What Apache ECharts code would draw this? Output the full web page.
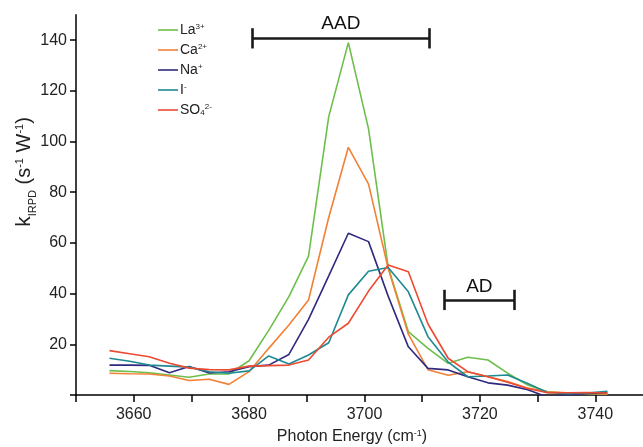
<!DOCTYPE html>
<html><head><meta charset="utf-8">
<script src="https://cdn.jsdelivr.net/npm/echarts@6/dist/echarts.min.js"></script>
<style>html,body{margin:0;padding:0;background:#fff}#c{width:643px;height:447px}</style>
</head><body><div id="c"></div>
<script>
// Photon energy (cm^-1)
const photonEnergy = [3655.8, 3659.3, 3662.7, 3666.2, 3669.6, 3673.1, 3676.5, 3680.0, 3683.4, 3686.9, 3690.3, 3693.8, 3697.2, 3700.7, 3704.1, 3707.6, 3711.0, 3714.5, 3717.9, 3721.4, 3724.8, 3728.3, 3731.7, 3735.2, 3738.6, 3742.1];
// k_IRPD values
const la3 = [9.6, 9.3, 8.8, 7.9, 7.0, 8.3, 8.3, 13.5, 25.5, 38.8, 54.8, 109.8, 139.0, 105.0, 50.5, 25.0, 18.4, 12.5, 14.9, 13.8, 8.6, 3.9, 1.3, 0.7, 0.5, 0.3];
const ca2 = [8.6, 8.4, 8.3, 7.5, 5.7, 6.2, 4.2, 9.2, 18.4, 27.6, 37.5, 70.0, 97.7, 83.2, 50.0, 24.0, 10.0, 7.8, 9.2, 7.2, 5.3, 2.7, 1.3, 0.9, 0.6, 0.4];
const na1 = [11.8, 11.8, 11.7, 8.8, 11.2, 8.7, 9.2, 11.2, 11.8, 16.0, 29.8, 47.0, 63.8, 60.5, 39.0, 19.0, 10.5, 9.9, 7.2, 4.8, 3.9, 2.1, -0.8, 0.0, 0.6, 1.0];
const iodide = [14.5, 13.3, 11.8, 11.4, 11.0, 9.2, 8.6, 9.5, 15.4, 12.2, 15.8, 20.6, 39.5, 48.8, 50.3, 40.7, 23.0, 13.0, 7.2, 7.5, 7.9, 4.5, 1.0, 0.5, 0.8, 1.5];
const sulfate = [17.5, 16.3, 15.1, 12.5, 10.6, 10.0, 9.9, 11.4, 11.6, 11.8, 13.8, 22.8, 28.3, 41.0, 51.3, 48.6, 28.0, 14.5, 9.2, 7.2, 5.0, 2.6, 0.9, 0.9, 1.0, 0.8];

const seriesNames = ['La3+', 'Ca2+', 'Na+', 'I-', 'SO42-'];
const legendRich = {'La3+':'{b|La}{sup|3+}','Ca2+':'{b|Ca}{sup|2+}','Na+':'{b|Na}{sup|+}','I-':'{b|I}{sup|-}','SO42-':'{b|SO}{sub|4}{sup|2-}'};
const colors = ['#6dbf4b', '#f28035', '#2f2a7f', '#1d8a91', '#ec4a32'];

const xTicks = [3650, 3660, 3670, 3680, 3690, 3700, 3710, 3720, 3730, 3740];
const xLabels = [3660, 3680, 3700, 3720, 3740];
const yTicks = [0, 20, 40, 60, 80, 100, 120, 140];
const yLabels = [20, 40, 60, 80, 100, 120, 140];

// annotation brackets (data units)
const aadRange = [3680.6, 3711.2], aadLevel = 140.7;
const adRange = [3713.8, 3726.0], adLevel = 37.5;
const capHalf = 4;

const FONT = 'Liberation Sans, Arial, sans-serif';
const chart = echarts.init(document.getElementById('c'), null, {renderer: 'canvas'});

const allData = [la3, ca2, na1, iodide, sulfate];
const series = allData.map((arr, i) => ({
  name: seriesNames[i], type: 'line', symbol: 'none', showSymbol: false,
  data: photonEnergy.map((x, j) => [x, arr[j]]),
  lineStyle: {width: 1.6, color: colors[i]}, itemStyle: {color: colors[i]},
  animation: false, z: 2
}));

const labelStyle = {show: true, position: 'insideMiddleTop', fontSize: 19, color: '#111', fontFamily: FONT};
series.push({
  name: 'annot', type: 'line', data: [], silent: true, animation: false,
  markLine: {
    symbol: ['none', 'none'], silent: true, animation: false,
    lineStyle: {color: '#1a1a1a', width: 2.6, type: 'solid'},
    label: {show: false},
    data: [
      [{coord: [aadRange[0], aadLevel], label: Object.assign({formatter: 'AAD', distance: 5}, labelStyle)}, {coord: [aadRange[1], aadLevel]}],
      [{coord: [aadRange[0], aadLevel - capHalf]}, {coord: [aadRange[0], aadLevel + capHalf]}],
      [{coord: [aadRange[1], aadLevel - capHalf]}, {coord: [aadRange[1], aadLevel + capHalf]}],
      [{coord: [adRange[0], adLevel], label: Object.assign({formatter: 'AD', distance: 4}, labelStyle)}, {coord: [adRange[1], adLevel]}],
      [{coord: [adRange[0], adLevel - capHalf]}, {coord: [adRange[0], adLevel + capHalf]}],
      [{coord: [adRange[1], adLevel - capHalf]}, {coord: [adRange[1], adLevel + capHalf]}]
    ]
  }
});

const axisLineStyle = {color: '#000', width: 1.5};
chart.setOption({
  animation: false,
  backgroundColor: '#fff',
  grid: {left: 76, right: -10, top: 14.75, bottom: 52, containLabel: false, outerBoundsMode: 'none'},
  legend: {
    data: seriesNames, orient: 'vertical', left: 153, top: 18,
    icon: 'rect', itemWidth: 20, itemHeight: 1.6, itemGap: 6,
    textStyle: {fontSize: 14, fontFamily: FONT, color: '#222', lineHeight: 14, padding: [0, 0, 0, -3],
      rich: {
        b: {fontSize: 14, lineHeight: 14, fontFamily: FONT, color: '#222'},
        sup: {fontSize: 8, lineHeight: 8, verticalAlign: 'top', fontFamily: FONT, color: '#222'},
        sub: {fontSize: 8, lineHeight: 8, verticalAlign: 'bottom', fontFamily: FONT, color: '#222'}
      }},
    formatter: n => legendRich[n]
  },
  xAxis: {
    type: 'value', min: 3650, max: 3750, interval: 10,
    axisLine: {show: true, onZero: false, lineStyle: axisLineStyle},
    axisTick: {show: true, length: 7, lineStyle: axisLineStyle, customValues: xTicks},
    axisLabel: {fontSize: 16, color: '#222', fontFamily: FONT, margin: 12, customValues: xLabels,
      formatter: v => String(v)},
    splitLine: {show: false}
  },
  yAxis: {
    type: 'value', min: 0, max: 150, interval: 20,
    axisLine: {show: true, lineStyle: axisLineStyle},
    axisTick: {show: true, length: 6, lineStyle: axisLineStyle, customValues: yTicks},
    axisLabel: {fontSize: 16, color: '#222', fontFamily: FONT, margin: 9, customValues: yLabels,
      formatter: v => String(v)},
    splitLine: {show: false}
  },
  graphic: [
    {type: 'text', x: 24, y: 172, rotation: Math.PI / 2, silent: true,
     style: {text: '{k|k}{sub|IRPD}{m| (s}{sup|-1}{m| W}{sup|-1}{m|)}',
       align: 'center', verticalAlign: 'middle', textAlign: 'center', textVerticalAlign: 'middle',
       rich: {
         k: {fontSize: 21, lineHeight: 20, fontFamily: FONT, fill: '#222', color: '#222'},
         m: {fontSize: 20, lineHeight: 20, fontFamily: FONT, fill: '#222', color: '#222'},
         sub: {fontSize: 11, lineHeight: 10, verticalAlign: 'bottom', fontFamily: FONT, fill: '#222', color: '#222', padding: [0, 0, -4, 0]},
         sup: {fontSize: 11, lineHeight: 11, verticalAlign: 'top', fontFamily: FONT, fill: '#222', color: '#222'}
       }}},
    {type: 'text', x: 352, y: 437, silent: true,
     style: {text: '{m|Photon Energy (cm}{sup|-1}{m|)}',
       align: 'center', verticalAlign: 'middle', textAlign: 'center', textVerticalAlign: 'middle',
       rich: {
         m: {fontSize: 16, lineHeight: 16, fontFamily: FONT, fill: '#222', color: '#222'},
         sup: {fontSize: 9, lineHeight: 9, verticalAlign: 'top', fontFamily: FONT, fill: '#222', color: '#222'}
       }}}
  ],
  series: series
});
</script>
</body></html>
